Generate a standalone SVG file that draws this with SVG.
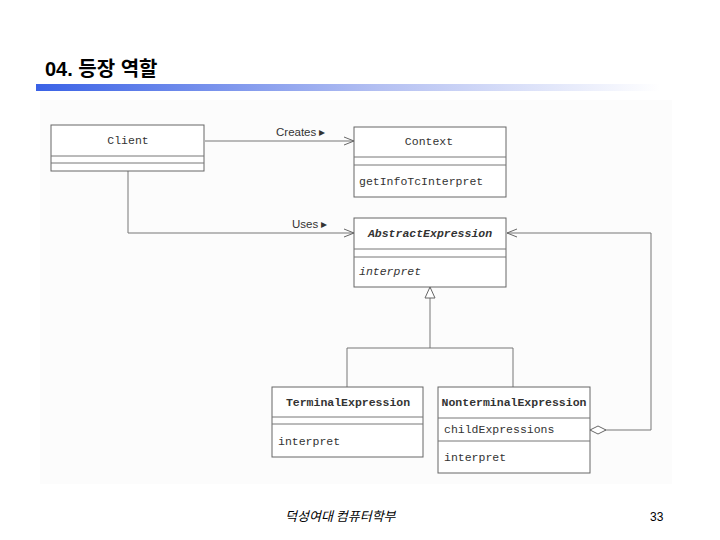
<svg xmlns="http://www.w3.org/2000/svg" width="720" height="540" viewBox="0 0 720 540">
<defs>
<linearGradient id="bar" x1="0" y1="0" x2="1" y2="0">
<stop offset="0" stop-color="#3a62e6"/>
<stop offset="0.55" stop-color="#b4c0f2"/>
<stop offset="1" stop-color="#ffffff"/>
</linearGradient>
<marker id="open" viewBox="0 0 10 10" refX="10" refY="5" markerWidth="10" markerHeight="10" markerUnits="userSpaceOnUse" orient="auto">
<path d="M0,1 L10,5 L0,9" fill="none" stroke="#666" stroke-width="1"/>
</marker>
<marker id="tri" viewBox="0 0 12 14" refX="12" refY="7" markerWidth="12" markerHeight="14" markerUnits="userSpaceOnUse" orient="auto">
<path d="M1,2 L12,7 L1,12 Z" fill="#fff" stroke="#666" stroke-width="1"/>
</marker>
<marker id="dia" viewBox="0 0 16 10" refX="0" refY="5" markerWidth="16" markerHeight="10" markerUnits="userSpaceOnUse" orient="auto">
<path d="M0,5 L8,1 L16,5 L8,9 Z" fill="#fff" stroke="#666" stroke-width="1"/>
</marker>
</defs>
<style>
.box{fill:#fff;stroke:#666;stroke-width:1}
.sep{stroke:#777;stroke-width:1}
.mono{font-family:"Liberation Mono","DejaVu Sans Mono",monospace;font-size:11.5px;fill:#333}
.b{font-weight:bold}
.i{font-style:italic}
.lbl{font-family:"Liberation Sans",Arial,sans-serif;font-size:11.5px;fill:#333}
.ln{fill:none;stroke:#777;stroke-width:1}
</style>
<rect width="720" height="540" fill="#fff"/>
<rect x="40" y="100" width="632" height="384" fill="#fcfcfc"/>
<g id="header">
<text x="45" y="76" font-family="'Liberation Sans','Noto Sans CJK KR',sans-serif" font-size="20" font-weight="bold" fill="#000">04. 등장 역할</text>
<rect x="36" y="84" width="624" height="7" fill="url(#bar)"/>
</g>
<g id="connectors">
<path class="ln" d="M205,141 H354" marker-end="url(#open)"/>
<text class="lbl" x="276" y="136">Creates ▸</text>
<path class="ln" d="M128,171 V233 H354" marker-end="url(#open)"/>
<text class="lbl" x="292" y="228">Uses ▸</text>
<path class="ln" d="M347,387 V348 H513 V387"/>
<path class="ln" d="M430,348 V287" marker-end="url(#tri)"/>
<path class="ln" d="M590,430 H651 V233 H507" marker-start="url(#dia)" marker-end="url(#open)"/>
</g>
<g id="client">
<rect class="box" x="51" y="125" width="153" height="46"/>
<line class="sep" x1="51" y1="156" x2="204" y2="156"/>
<line class="sep" x1="51" y1="163" x2="204" y2="163"/>
<text class="mono" x="128" y="144" text-anchor="middle">Client</text>
</g>
<g id="context">
<rect class="box" x="354" y="127" width="152" height="70"/>
<line class="sep" x1="354" y1="157" x2="506" y2="157"/>
<line class="sep" x1="354" y1="165" x2="506" y2="165"/>
<text class="mono" x="429" y="145" text-anchor="middle">Context</text>
<text class="mono" x="359" y="185">getInfoTcInterpret</text>
</g>
<g id="abstract">
<rect class="box" x="354" y="218" width="152" height="69"/>
<line class="sep" x1="354" y1="249" x2="506" y2="249"/>
<line class="sep" x1="354" y1="257" x2="506" y2="257"/>
<text class="mono i b" x="430" y="237" text-anchor="middle">AbstractExpression</text>
<text class="mono i" x="359" y="275">interpret</text>
</g>
<g id="terminal">
<rect class="box" x="272" y="387" width="151" height="70"/>
<line class="sep" x1="272" y1="417" x2="423" y2="417"/>
<line class="sep" x1="272" y1="424" x2="423" y2="424"/>
<text class="mono b" x="348" y="406" text-anchor="middle">TerminalExpression</text>
<text class="mono" x="278" y="445">interpret</text>
</g>
<g id="nonterminal">
<rect class="box" x="438" y="387" width="152" height="86"/>
<line class="sep" x1="438" y1="418" x2="590" y2="418"/>
<line class="sep" x1="438" y1="441" x2="590" y2="441"/>
<text class="mono b" x="514" y="406" text-anchor="middle">NonterminalExpression</text>
<text class="mono" x="444" y="433">childExpressions</text>
<text class="mono" x="444" y="461">interpret</text>
</g>
<g id="footer">
<text x="285" y="521" font-family="'Noto Sans CJK KR',sans-serif" font-size="13" font-style="italic" fill="#000">덕성여대 컴퓨터학부</text>
<text x="650" y="521" font-family="'Liberation Sans',Arial,sans-serif" font-size="12" fill="#000">33</text>
</g>
</svg>
